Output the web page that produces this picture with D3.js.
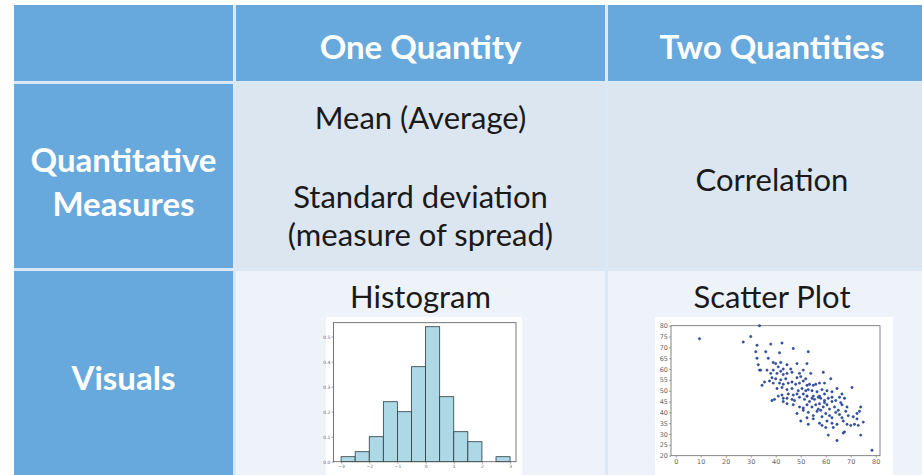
<!DOCTYPE html>
<html>
<head>
<meta charset="utf-8">
<script src="https://cdn.jsdelivr.net/npm/d3@7"></script>
<style>
  body { margin: 0; background: #fff; }
  svg { display: block; }
  .cell-text { font-family: Lato, "Open Sans", sans-serif; }
  .tick-label { font-family: "DejaVu Sans", sans-serif; }
</style>
</head>
<body>
<svg id="chart" width="922" height="475"></svg>
<script>
// table text
const columnHeaders = ['One Quantity', 'Two Quantities'];
const rowHeaders = [['Quantitative', 'Measures'], ['Visuals']];
const oneQuantityMeasures = ['Mean (Average)', 'Standard deviation', '(measure of spread)'];
const twoQuantityMeasures = ['Correlation'];
const visualTitles = ['Histogram', 'Scatter Plot'];

// histogram (bin width 0.5, density)
const histBinStarts = [-3, -2.5, -2, -1.5, -1, -0.5, 0, 0.5, 1, 1.5, 2, 2.5];
const histDensity = [0.02, 0.04, 0.10, 0.24, 0.20, 0.38, 0.54, 0.26, 0.12, 0.08, 0, 0.02];
const histXTicks = [-3, -2, -1, 0, 1, 2, 3];
const histYTicks = [0, 0.1, 0.2, 0.3, 0.4, 0.5];

// scatter plot points [x, y]
const scatterPoints = [
    [9.5, 74], [27, 72.5], [30, 75], [33.5, 80], [32.5, 71], [32, 68], [32.5, 65], [33, 62],
    [33.5, 59.5], [34.5, 52.5], [35.5, 54], [36, 68], [38, 71.5], [42.5, 72], [47, 69.5], [41.5, 67.5],
    [38.5, 45.5], [37, 65], [39, 63], [40, 62.5], [41, 61], [42, 63], [43, 60], [44.5, 62],
    [46, 60], [48.5, 62.5], [52.5, 62.5], [53, 68], [34, 59.5], [36.5, 59.5], [38, 58], [39, 59.5],
    [40.5, 58], [42, 59], [43, 57.5], [44.5, 58], [46.5, 58.5], [49.5, 58], [51, 59.5], [54, 58],
    [59, 58.5], [38.5, 56], [40, 55.5], [42, 55], [44, 55.5], [48.5, 56], [50, 56.5], [52, 55.5],
    [37.5, 54.5], [39, 53.5], [41.5, 53.5], [43, 53], [45, 53.5], [46.5, 54], [48, 53], [49.5, 53.5],
    [51, 54.5], [52.5, 52.5], [53.5, 53], [55, 52.5], [56, 53], [57.5, 53.5], [59.5, 53.5], [62, 55.5],
    [40.5, 51], [42.5, 51.5], [44.5, 50.5], [46.5, 51], [49, 50], [50.5, 51], [52, 50], [53, 50.5],
    [54.5, 50], [56.5, 49.5], [58.5, 50.5], [60.5, 50], [70.5, 51.5], [48.5, 48.5], [51, 48.5], [52.5, 47.5],
    [55, 47.5], [57.5, 47.5], [59.5, 48.5], [62.5, 49.5], [64.5, 51], [42.5, 48], [45, 48.5], [47, 48],
    [41, 47.5], [43, 46.5], [44.5, 46.5], [46.5, 46], [47.5, 45.5], [49.5, 47], [51.5, 46], [52.5, 47.5],
    [54.5, 46.5], [55.5, 46], [57, 47], [58, 46.5], [59.5, 45.5], [61, 46.5], [62.5, 47], [64, 45.5],
    [65.5, 47], [66.5, 48.5], [67.5, 46.5], [44.5, 44], [47, 43.5], [49.5, 42.5], [51, 42], [52.5, 43.5],
    [54.5, 42.5], [56, 43.5], [57, 41.5], [59, 42.5], [60.5, 43.5], [61.5, 41.5], [63.5, 42.5], [65, 41],
    [66.5, 43.5], [68.5, 42.5], [39.5, 46], [43, 45], [53.5, 45], [59.5, 44.5], [62.5, 45], [58, 41],
    [48.5, 39.5], [51, 41], [53, 40], [55, 38.5], [56.5, 40.5], [58.5, 38], [60, 39.5], [61.5, 38.5],
    [62.5, 37.5], [64, 40], [65.5, 39], [66.5, 37.5], [68, 40.5], [69, 38.5], [71, 38], [72.5, 39.5],
    [73.5, 40.5], [74, 42.5], [52.5, 37.5], [55, 37], [57.5, 35], [60.5, 36], [62.5, 35], [64.5, 34.5],
    [67, 36], [68.5, 34.5], [70, 34], [71.5, 34.5], [73, 34], [75, 35.5], [50, 36], [53, 34.5],
    [61, 29.5], [67.5, 31], [67, 30.5], [74, 29.5], [72.5, 37], [64.5, 27], [78.5, 22.5], [60, 33],
    [63, 33], [58.5, 34], [66, 44.5], [57.5, 44]
];
const scatterXTicks = [0, 10, 20, 30, 40, 50, 60, 70, 80];
const scatterYTicks = [20, 25, 30, 35, 40, 45, 50, 55, 60, 65, 70, 75, 80];

const svg = d3.select('#chart');

// ---- table grid ----
const colEdges = [14, 236, 608, 940];
const rowEdges = [5, 84, 271, 478];
const gap = 3;
const headerBlue = '#68a9dd';

svg.append('rect')
    .attr('x', colEdges[0]).attr('y', rowEdges[0])
    .attr('width', colEdges[3] - colEdges[0]).attr('height', rowEdges[3] - rowEdges[0])
    .attr('fill', '#dbe9f7');

const cells = [];
for (let r = 0; r < 3; r++) {
    for (let c = 0; c < 3; c++) {
        let fill = headerBlue;
        if (r === 1 && c > 0) fill = '#dce6f1';
        if (r === 2 && c > 0) fill = '#eef3fa';
        cells.push({ r, c, fill });
    }
}
svg.append('g').selectAll('rect')
    .data(cells)
    .join('rect')
    .attr('x', d => colEdges[d.c])
    .attr('y', d => rowEdges[d.r])
    .attr('width', d => colEdges[d.c + 1] - colEdges[d.c] - (d.c < 2 ? gap : 0))
    .attr('height', d => rowEdges[d.r + 1] - rowEdges[d.r] - (d.r < 2 ? gap : 0))
    .attr('fill', d => d.fill);

const colCenter = c => (colEdges[c] + colEdges[c + 1] - (c < 2 ? gap : 0)) / 2;
const col3Center = 772;

function addText(str, x, y, opts) {
    return svg.append('text')
        .attr('class', 'cell-text')
        .attr('x', x).attr('y', y)
        .attr('text-anchor', 'middle')
        .attr('font-size', opts.size)
        .attr('font-weight', opts.bold ? 700 : 400)
        .attr('fill', opts.fill)
        .text(str);
}

// headers
const headStyle = { size: 33, bold: true, fill: '#fff' };
addText(columnHeaders[0], colCenter(1), 59, headStyle);
addText(columnHeaders[1], col3Center, 59, headStyle);
addText(rowHeaders[0][0], colCenter(0), 172, headStyle);
addText(rowHeaders[0][1], colCenter(0), 216, headStyle);
addText(rowHeaders[1][0], colCenter(0), 390, headStyle);

// body text
const bodyStyle = { size: 31, bold: false, fill: '#1a1a1a' };
addText(oneQuantityMeasures[0], colCenter(1), 129, bodyStyle);
addText(oneQuantityMeasures[1], colCenter(1), 208, bodyStyle);
addText(oneQuantityMeasures[2], colCenter(1), 246, bodyStyle);
addText(twoQuantityMeasures[0], col3Center, 191, bodyStyle);
addText(visualTitles[0], colCenter(1), 308, bodyStyle);
addText(visualTitles[1], col3Center, 308, bodyStyle);

// ---- histogram ----
const hist = svg.append('g');
hist.append('rect').attr('x', 326).attr('y', 317).attr('width', 196).attr('height', 160).attr('fill', '#fff');

const hx = d3.scaleLinear().domain([-3.27, 3.21]).range([333.5, 516]);
const hy = d3.scaleLinear().domain([0, 0.556]).range([461.7, 322.7]);
const histBins = histBinStarts.map((x0, i) => ({ x0, x1: x0 + 0.5, v: histDensity[i] }));

hist.append('g').selectAll('rect')
    .data(histBins.filter(d => d.v > 0))
    .join('rect')
    .attr('x', d => hx(d.x0))
    .attr('y', d => hy(d.v))
    .attr('width', d => hx(d.x1) - hx(d.x0))
    .attr('height', d => hy(0) - hy(d.v))
    .attr('fill', '#add8e6')
    .attr('stroke', '#2b3a40')
    .attr('stroke-width', 0.8);

hist.append('rect')
    .attr('x', 333.5).attr('y', 322.7).attr('width', 516 - 333.5).attr('height', 461.7 - 322.7)
    .attr('fill', 'none').attr('stroke', '#555').attr('stroke-width', 0.8);

const hxAxis = hist.append('g').attr('transform', 'translate(0,461.7)')
    .call(d3.axisBottom(hx).tickValues(histXTicks).tickSize(2).tickPadding(1).tickFormat(d3.format('d')));
const hyAxis = hist.append('g').attr('transform', 'translate(333.5,0)')
    .call(d3.axisLeft(hy).tickValues(histYTicks).tickSize(2).tickPadding(1).tickFormat(d3.format('.1f')));
[hxAxis, hyAxis].forEach(a => {
    a.select('.domain').remove();
    a.selectAll('line').attr('stroke', '#666').attr('stroke-width', 0.6);
    a.selectAll('text').attr('class', 'tick-label').attr('font-size', 4.5).attr('fill', '#666');
});

// ---- scatter plot ----
const sc = svg.append('g');
sc.append('rect').attr('x', 655).attr('y', 317).attr('width', 238).attr('height', 160).attr('fill', '#fff');

const sx = d3.scaleLinear().domain([-1.9, 81.7]).range([671, 880]);
const sy = d3.scaleLinear().domain([20, 80]).range([455.7, 325.7]);

sc.append('rect')
    .attr('x', 671).attr('y', 325.7).attr('width', 880 - 671).attr('height', 455.7 - 325.7)
    .attr('fill', 'none').attr('stroke', '#666').attr('stroke-width', 0.8);

const sxAxis = sc.append('g').attr('transform', 'translate(0,455.7)')
    .call(d3.axisBottom(sx).tickValues(scatterXTicks).tickSize(2).tickPadding(2));
const syAxis = sc.append('g').attr('transform', 'translate(671,0)')
    .call(d3.axisLeft(sy).tickValues(scatterYTicks).tickSize(2).tickPadding(1));
[sxAxis, syAxis].forEach(a => {
    a.select('.domain').remove();
    a.selectAll('line').attr('stroke', '#666').attr('stroke-width', 0.6);
    a.selectAll('text').attr('class', 'tick-label').attr('font-size', 6.5).attr('fill', '#666');
});

sc.append('g').selectAll('circle')
    .data(scatterPoints)
    .join('circle')
    .attr('cx', d => sx(d[0]))
    .attr('cy', d => sy(d[1]))
    .attr('r', 1.2)
    .attr('fill', '#2f55b8')
    .attr('stroke', '#1b2f6a')
    .attr('stroke-width', 0.4);
</script>
</body>
</html>
